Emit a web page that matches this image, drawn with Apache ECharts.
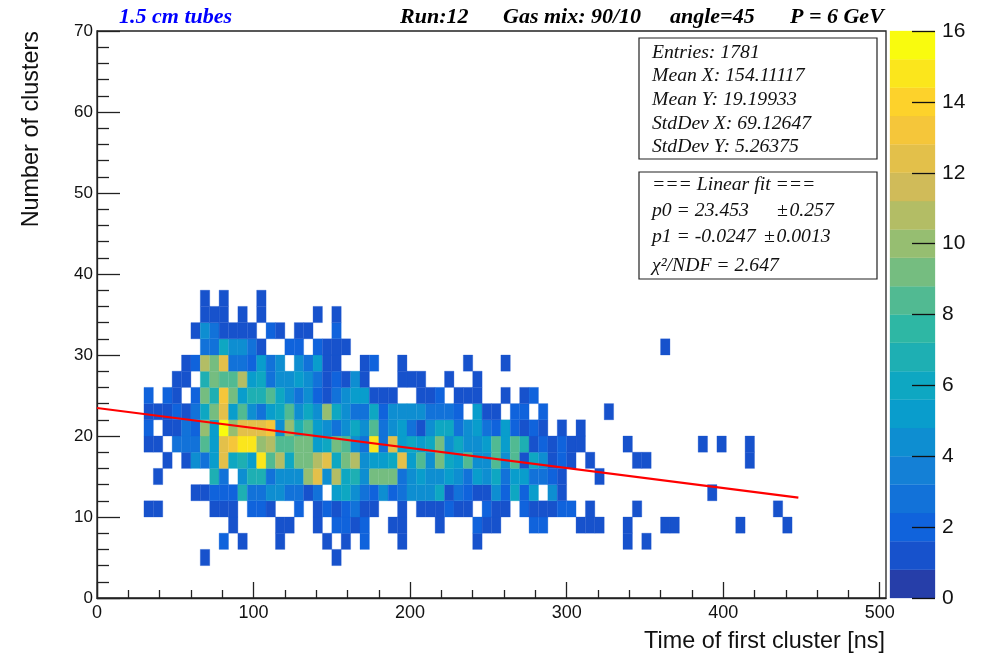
<!DOCTYPE html>
<html><head><meta charset="utf-8">
<script src="https://cdn.jsdelivr.net/npm/echarts@6/dist/echarts.min.js"></script>
<style>html,body{margin:0;padding:0;background:#fff}#c{width:986px;height:659px}</style>
</head><body><div id="c"></div>
<script>
// ---- histogram binning ----
const xBinWidth = 6;      // ns
const yBinWidth = 2;      // clusters
const xFirstEdge = 30;    // lower x edge of the first entry of every row array
const xRange = [0, 504];
const yRange = [0, 70];

// ---- bin contents, one array per y bin (lower edge in name), columns start at 30 ns, 6 ns wide ----
const row4  = [0,0,0,0,0,0,1,0,0,0, 0,0,0,0,0,0,0,0,0,0, 1];
const row6  = [0,0,0,0,0,0,0,0,2,0, 1,0,0,0,1,0,0,0,0,1, 0,1,0,2,0,0,0,1,0,0, 0,0,0,0,0,1,0,0,0,0, 0,0,0,0,0,0,0,0,0,0, 0,1,0,1];
const row8  = [0,0,0,0,0,0,0,0,0,1, 0,0,0,0,1,1,0,0,1,0, 2,2,1,2,0,0,1,1,0,0, 0,1,0,0,0,2,1,1,0,0, 0,2,2,0,0,0,1,1,1,0, 0,1,0,0,0,1,1,0,0,0, 0,0,0,1,0,0,0,0,1];
const row10 = [1,1,0,0,0,0,0,1,1,1, 0,2,2,1,0,0,2,0,1,2, 1,2,3,1,1,0,0,1,0,1, 1,1,2,1,1,0,2,1,1,0, 2,1,1,1,2,2,0,1,0,0, 0,0,1,0,0,0,0,0,0,0, 0,0,0,0,0,0,0,1];
const row12 = [0,0,0,0,0,1,1,2,2,2, 7,3,3,4,4,3,3,1,3,0, 5,6,4,3,2,4,2,3,4,4, 4,6,1,3,2,1,1,4,2,6, 2,5,0,4,1,0,0,0,0,0, 0,0,0,0,0,0,0,0,0,0, 1];
const row14 = [0,1,0,0,0,0,0,7,3,0, 4,7,7,3,4,4,4,10,12,4, 11,6,7,4,9,9,9,3,4,5, 4,4,5,4,3,5,4,6,3,5, 5,3,3,2,1,0,0,0,1];
const row16 = [0,0,1,0,1,4,3,5,12,6, 7,5,15,8,11,6,9,9,11,12, 6,9,11,4,5,5,6,12,5,8, 4,9,6,5,8,4,4,8,4,8, 1,6,4,1,2,1,0,1,0,0, 0,0,1,1,0,0,0,0,0,0, 0,0,0,0,1];
const row18 = [1,1,0,3,3,3,8,5,12,13, 15,15,10,11,8,8,9,9,5,6, 9,8,4,3,15,3,12,5,6,5, 6,9,4,6,4,4,5,8,5,8, 7,1,2,1,2,1,1,0,0,0, 0,1,0,0,0,0,0,0,0,1, 0,1,0,0,1];
const row20 = [2,0,1,1,3,2,10,5,16,10, 12,12,12,13,4,10,7,8,5,4, 3,4,6,4,8,3,4,5,3,1, 4,6,6,3,4,5,3,2,5,2, 1,2,1,0,1,0,1];
const row22 = [1,1,1,2,1,3,6,9,12,5, 8,4,3,5,6,8,4,6,4,10, 6,4,3,3,6,2,4,4,4,4, 3,3,3,2,0,5,1,1,0,2, 2,0,2,0,0,0,0,0,0,1];
const row24 = [2,0,2,1,0,2,9,7,13,9, 5,7,7,8,6,4,3,4,2,1, 3,4,5,5,1,1,1,0,0,1, 1,2,0,1,1,1,0,0,1,0, 1,2];
const row26 = [0,0,0,1,1,0,7,9,8,8, 11,5,6,3,4,4,5,4,3,1, 2,1,4,1,0,0,0,1,1,1, 0,0,1,0,0,1];
const row28 = [0,0,0,0,1,2,11,9,12,3, 3,2,5,3,4,0,4,3,5,1, 1,0,0,1,2,0,0,1,0,0, 0,0,0,0,1,0,0,0,1];
const row30 = [0,0,0,0,0,0,3,3,6,4, 4,3,1,0,0,2,2,0,2,1, 1,1,0,0,0,0,0,0,0,0, 0,0,0,0,0,0,0,0,0,0, 0,0,0,0,0,0,0,0,0,0, 0,0,0,0,0,1];
const row32 = [0,0,0,0,0,1,4,3,1,1, 1,1,0,2,1,0,1,1,0,0, 2];
const row34 = [0,0,0,0,0,0,1,1,1,0, 1,0,1,0,0,0,0,0,1,0, 1];
const row36 = [0,0,0,0,0,0,1,0,1,0, 0,0,1];

const rowLowEdges = [4, 6, 8, 10, 12, 14, 16, 18, 20, 22, 24, 26, 28, 30, 32, 34, 36];
const rowCounts   = [row4, row6, row8, row10, row12, row14, row16, row18, row20, row22, row24, row26, row28, row30, row32, row34, row36];

// ---- linear fit ----
const fitP0 = 23.453;
const fitP1 = -0.0247;
const fitXRange = [0, 448];

// ---- colour scale (z axis) ----
const zMax = 16;
const zLevels = 20;
const xMajorTicks = [0, 100, 200, 300, 400, 500];

// ROOT kBird palette stops
const birdStops = [0.0000, 0.1250, 0.2500, 0.3750, 0.5000, 0.6250, 0.7500, 0.8750, 1.0000];
const birdR = [0.2082, 0.0592, 0.0780, 0.0232, 0.1802, 0.5301, 0.8186, 0.9956, 0.9764];
const birdG = [0.1664, 0.3599, 0.5041, 0.6419, 0.7178, 0.7492, 0.7328, 0.7862, 0.9832];
const birdB = [0.5293, 0.8684, 0.8385, 0.7914, 0.6425, 0.4662, 0.3499, 0.1968, 0.0539];

function bird(f) {
  f = Math.max(0, Math.min(1, f));
  let k = 0;
  while (k < birdStops.length - 2 && f > birdStops[k + 1]) k++;
  const t = (f - birdStops[k]) / (birdStops[k + 1] - birdStops[k]);
  const c = arr => Math.round(255 * (arr[k] + (arr[k + 1] - arr[k]) * t));
  return 'rgb(' + c(birdR) + ',' + c(birdG) + ',' + c(birdB) + ')';
}

const pieces = [];
const bands = [];
for (let k = 0; k < zLevels; k++) {
  const lo = (k * zMax) / zLevels, hi = ((k + 1) * zMax) / zLevels;
  const p = { gte: lo, color: bird((k + 0.99) / zLevels) };
  if (k === zLevels - 1) p.lte = hi; else p.lt = hi;
  pieces.push(p);
  bands.push([lo, hi, (lo + hi) / 2]);
}

const cells = [];
rowCounts.forEach((arr, r) => {
  arr.forEach((v, c) => {
    if (v > 0) cells.push([xFirstEdge + c * xBinWidth, rowLowEdges[r], v]);
  });
});

const fitData = fitXRange.map(x => [x, fitP0 + fitP1 * x]);

const minorX = [];
for (let v = 20; v < 504; v += 20) if (v % 100 !== 0) minorX.push(v);

const axisCol = '#222';
const sans = '"Liberation Sans", Arial, sans-serif';
const serif = '"Liberation Serif", "Times New Roman", serif';
const statFont = 'italic 19.7px ' + serif;

const chart = echarts.init(document.getElementById('c'), null, { renderer: 'canvas' });

function statText(x, y, s) {
  return { type: 'text', z: 11, x: x, y: y, style: { text: s, font: statFont, fill: '#111', verticalAlign: 'middle' } };
}

const option = {
  animation: false,
  backgroundColor: '#fff',
  grid: [
    { left: 97, top: 31, width: 789, height: 567, show: true, borderColor: axisCol, borderWidth: 1.3, backgroundColor: 'transparent' },
    { left: 890, top: 31, width: 45, height: 567 }
  ],
  xAxis: [
    { type: 'value', gridIndex: 0, min: xRange[0], max: xRange[1], position: 'bottom',
      axisLine: { show: true, onZero: false, lineStyle: { color: axisCol, width: 1.3 } },
      axisTick: { show: true, inside: true, length: 16, customValues: xMajorTicks, lineStyle: { color: axisCol, width: 1.3 } },
      axisLabel: { customValues: xMajorTicks, fontFamily: sans, fontSize: 18, color: '#111', margin: 6 },
      splitLine: { show: false } },
    { type: 'value', gridIndex: 0, min: xRange[0], max: xRange[1], position: 'bottom',
      axisLine: { show: false, onZero: false },
      axisTick: { show: true, inside: true, length: 8, customValues: minorX, lineStyle: { color: axisCol, width: 1.3 } },
      axisLabel: { show: false }, splitLine: { show: false } },
    { type: 'value', gridIndex: 1, min: 0, max: 1, show: false }
  ],
  yAxis: [
    { type: 'value', gridIndex: 0, min: yRange[0], max: yRange[1], interval: 10,
      axisLine: { show: true, onZero: false, lineStyle: { color: axisCol, width: 1.3 } },
      axisTick: { show: true, inside: true, length: 23, lineStyle: { color: axisCol, width: 1.3 } },
      minorTick: { show: true, splitNumber: 5, length: 12, lineStyle: { color: axisCol, width: 1.3 } },
      axisLabel: { fontFamily: sans, fontSize: 17, color: '#111', margin: 4 },
      splitLine: { show: false }, minorSplitLine: { show: false } },
    { type: 'value', gridIndex: 1, min: 0, max: zMax, interval: 2, position: 'right', z: 5,
      axisLine: { show: false, onZero: false },
      axisTick: { show: true, inside: true, length: 23, lineStyle: { color: '#111', width: 1.3 } },
      axisLabel: { fontFamily: sans, fontSize: 21, color: '#111', margin: 7 },
      splitLine: { show: false } }
  ],
  visualMap: {
    type: 'piecewise', show: false, dimension: 2, seriesIndex: [0, 2], pieces: pieces
  },
  series: [
    { type: 'custom', xAxisIndex: 0, yAxisIndex: 0, data: cells, clip: true, z: 2,
      encode: { x: 0, y: 1 },
      renderItem: function (params, api) {
        const x0 = api.value(0), y0 = api.value(1);
        const a = api.coord([x0, y0 + yBinWidth]);
        const b = api.coord([x0 + xBinWidth, y0]);
        return { type: 'rect', shape: { x: a[0], y: a[1], width: b[0] - a[0], height: b[1] - a[1] },
                 style: { fill: api.visual('color'), stroke: api.visual('color'), lineWidth: 0.3 } };
      } },
    { type: 'line', xAxisIndex: 0, yAxisIndex: 0, data: fitData, symbol: 'none', z: 5,
      lineStyle: { color: '#ff0000', width: 2.2 } },
    { type: 'custom', xAxisIndex: 2, yAxisIndex: 1, data: bands, z: 1,
      encode: { y: 2 },
      renderItem: function (params, api) {
        const a = api.coord([0, api.value(1)]);
        const b = api.coord([1, api.value(0)]);
        return { type: 'rect', shape: { x: a[0], y: a[1], width: b[0] - a[0], height: b[1] - a[1] },
                 style: { fill: api.visual('color'), stroke: api.visual('color'), lineWidth: 0.3 } };
      } }
  ],
  graphic: [
    { type: 'text', left: 119, top: 6, z: 10, style: { text: '1.5 cm tubes', font: 'italic bold 22px ' + serif, fill: '#0000ff' } },
    { type: 'text', left: 400, top: 6, z: 10, style: { text: 'Run:12', font: 'italic bold 22px ' + serif, fill: '#000' } },
    { type: 'text', left: 503, top: 6, z: 10, style: { text: 'Gas mix: 90/10', font: 'italic bold 22px ' + serif, fill: '#000' } },
    { type: 'text', left: 670, top: 6, z: 10, style: { text: 'angle=45', font: 'italic bold 22px ' + serif, fill: '#000' } },
    { type: 'text', left: 790, top: 6, z: 10, style: { text: 'P = 6 GeV', font: 'italic bold 22px ' + serif, fill: '#000' } },

    { type: 'rect', z: 10, shape: { x: 639, y: 38, width: 238, height: 121 }, style: { fill: '#fff', stroke: '#222', lineWidth: 1.2 } },
    statText(652, 53, 'Entries: 1781'),
    statText(652, 76, 'Mean X: 154.11117'),
    statText(652, 100, 'Mean Y: 19.19933'),
    statText(652, 124, 'StdDev X: 69.12647'),
    statText(652, 147, 'StdDev Y: 5.26375'),

    { type: 'rect', z: 10, shape: { x: 639, y: 172, width: 238, height: 107 }, style: { fill: '#fff', stroke: '#222', lineWidth: 1.2 } },
    statText(652, 185, '=== Linear fit ==='),
    statText(652, 211, 'p0 = 23.453'),
    statText(777, 211, '\u00b1\u200a0.257'),
    statText(652, 237, 'p1 = -0.0247'),
    statText(764, 237, '\u00b1\u200a0.0013'),
    statText(652, 266, '\u03c7\u00b2/NDF = 2.647'),

    { type: 'text', z: 10, x: 32, y: 31, rotation: Math.PI / 2, style: { text: 'Number of clusters', font: '23.4px ' + sans, fill: '#111', align: 'right', verticalAlign: 'middle' } },
    { type: 'text', z: 10, x: 885, y: 642, style: { text: 'Time of first cluster [ns]', font: '23.4px ' + sans, fill: '#111', align: 'right', verticalAlign: 'middle' } }
  ]
};
chart.setOption(option);
</script>
</body></html>
